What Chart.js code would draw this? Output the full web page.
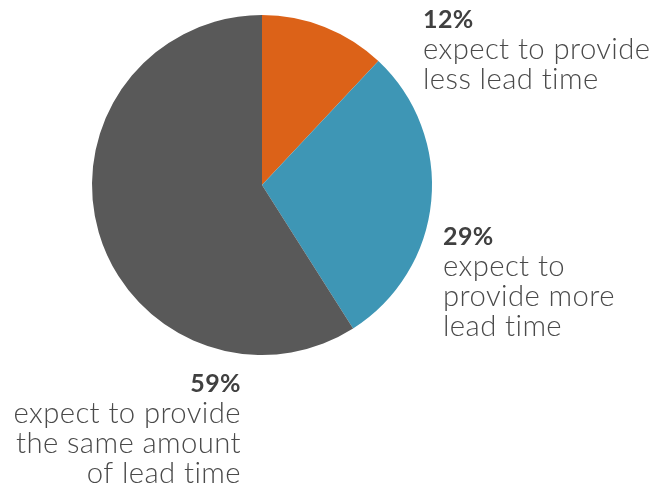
<!DOCTYPE html>
<html>
<head>
<meta charset="utf-8">
<script src="https://cdn.jsdelivr.net/npm/chart.js@4"></script>
<style>
    html, body { margin: 0; padding: 0; background: #fff; }
    #wrap { width: 658px; height: 491px; position: relative; }
</style>
</head>
<body>
<div id="wrap"><canvas id="pieChart" width="658" height="491"></canvas></div>
<script>
// Data
const categories = ['less lead time', 'more lead time', 'same amount of lead time'];
const values = [12, 29, 59];
const sliceColors = ['#DC6218', '#3E96B5', '#595959'];
const percentLabels = ['12%', '29%', '59%'];
const labelLines = [
    ['expect to provide', 'less lead time'],
    ['expect to', 'provide more', 'lead time'],
    ['expect to provide', 'the same amount', 'of lead time']
];

// Where each label block sits (x anchor, baseline of first line, alignment)
const labelPlacement = [
    { x: 423, y: 28, align: 'left' },
    { x: 443, y: 245, align: 'left' },
    { x: 241, y: 392, align: 'right' }
];

const FONT = 'Lato, "Open Sans", sans-serif';

// Draws the callout text next to the pie
const calloutPlugin = {
    id: 'callouts',
    afterDraw(chart) {
        const ctx = chart.ctx;
        ctx.save();
        // a little letter spacing also stops the "ti" ligature
        ctx.letterSpacing = '0.4px';
        // size the body text so "expect to provide" is about as wide as in the reference
        ctx.font = '300 28px ' + FONT;
        const w = ctx.measureText('expect to provide').width;
        const bodySize = 28 * 228 / w;

        labelPlacement.forEach((p, i) => {
            ctx.textAlign = p.align;
            ctx.textBaseline = 'alphabetic';
            ctx.fillStyle = '#404040';
            ctx.font = 'bold 25px ' + FONT;
            ctx.fillText(percentLabels[i], p.x, p.y);

            ctx.fillStyle = '#4a4a4a';
            ctx.font = '300 ' + bodySize.toFixed(1) + 'px ' + FONT;
            labelLines[i].forEach((line, j) => {
                ctx.fillText(line, p.x, p.y + 31 + j * 30);
            });
        });
        ctx.restore();
    }
};

new Chart(document.getElementById('pieChart'), {
    type: 'pie',
    data: {
        labels: categories,
        datasets: [{
            data: values,
            backgroundColor: sliceColors,
            borderWidth: 0
        }]
    },
    options: {
        responsive: false,
        animation: false,
        layout: {
            padding: { left: 92, right: 226, top: 15, bottom: 136 }
        },
        plugins: {
            legend: { display: false },
            tooltip: { enabled: false }
        }
    },
    plugins: [calloutPlugin]
});
</script>
</body>
</html>
